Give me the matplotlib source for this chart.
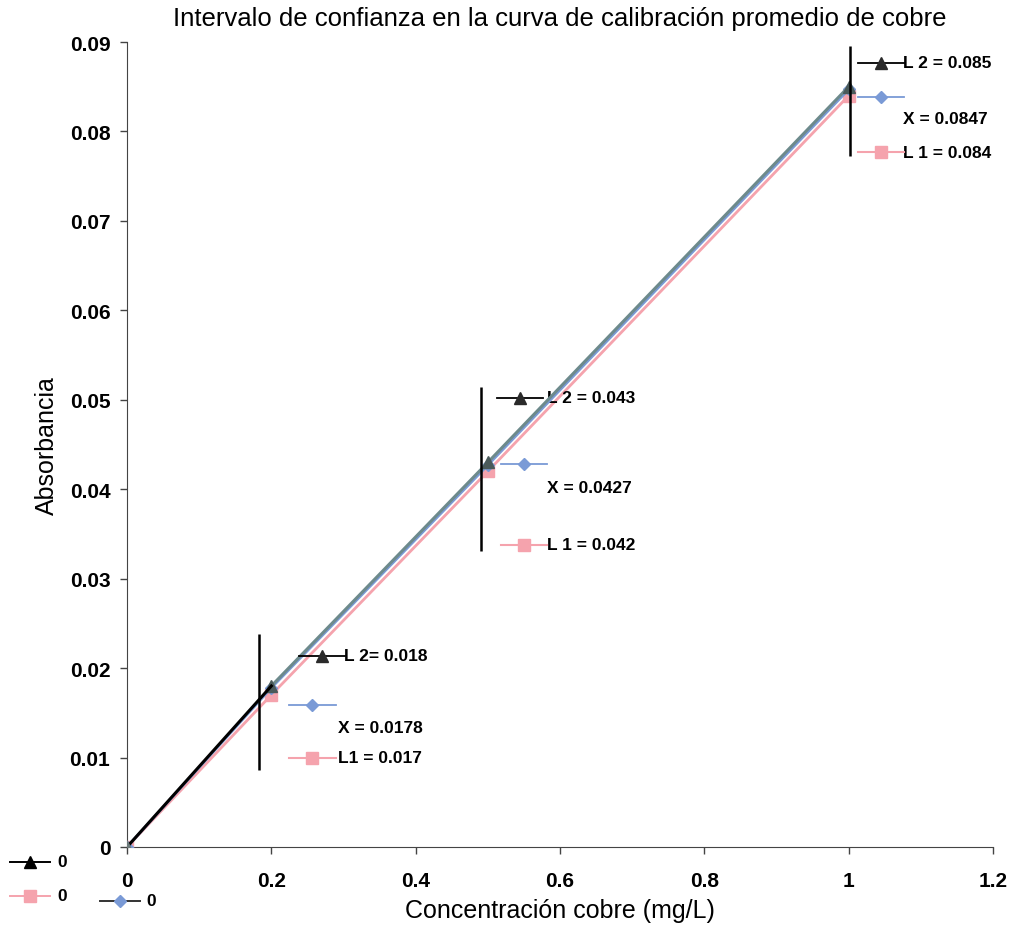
import matplotlib
matplotlib.use("Agg")
import matplotlib.pyplot as plt
from matplotlib.lines import Line2D

plt.rcParams['font.family'] = ['Liberation Sans', 'DejaVu Sans']

# ---- data ----
conc = [0, 0.2, 0.5, 1.0]
L2 = [0, 0.018, 0.043, 0.085]
Xm = [0, 0.0178, 0.0427, 0.0847]
L1 = [0, 0.017, 0.042, 0.084]

# labels for annotation blocks
lab_L2 = ["L 2= 0.018", "L 2 = 0.043", "L 2 = 0.085"]
lab_X = ["X = 0.0178", "X = 0.0427", "X = 0.0847"]
lab_L1 = ["L1 = 0.017", "L 1 = 0.042", "L 1 = 0.084"]
corner_labels = ['0', '0', '0']

# annotation anchor positions (data coords)
ann_x = [0.238, 0.513, 1.013]
ann_yL2 = [0.0214, 0.0502, 0.0877]
ann_yX = [0.0159, 0.0428, 0.0839]
ann_yXt = [0.0134, 0.0402, 0.0814]
ann_yL1 = [0.0100, 0.0338, 0.0777]
ann_xX = [0.225, 0.518, 1.013]
ann_xtxt = [0.30, 0.582, 1.075]
ann_xtxtX = [0.292, 0.582, 1.075]

# confidence interval vertical bars
vbar_x = [0.183, 0.4905, 1.002]
vbar_lo = [0.0086, 0.0331, 0.0773]
vbar_hi = [0.0238, 0.0514, 0.0896]

c_tri = '#2a2a2a'
c_tri_line = '#6d8a8c'
c_dia = '#7a9ad6'
c_sq = '#f5a3ad'

fig = plt.figure(figsize=(10.17, 9.37), dpi=100)
ax = fig.add_axes([0.1249, 0.0950, 0.8515, 0.8591])

ax.plot(conc, L1, color=c_sq, lw=2, marker='s', ms=8, zorder=3)
ax.plot(conc, Xm, color=c_dia, lw=2, marker='D', ms=6, zorder=4)
ax.plot(conc[1:], L2[1:], color=c_tri_line, lw=2.2, marker='^', ms=9,
        mfc='#4a5a5a', mec='#4a5a5a', zorder=5)
ax.plot(conc[:2], L2[:2], color='black', lw=2.2, zorder=5)
ax.plot(conc[:1], L2[:1], color=c_tri_line, marker='^', ms=9, mfc='#6d7a7a', mec='#6d7a7a', zorder=5)

for i in range(3):
    ax.vlines(vbar_x[i], vbar_lo[i], vbar_hi[i], color='black', lw=1.8, zorder=6)
    w = 0.064
    ax.plot([ann_x[i], ann_x[i] + w], [ann_yL2[i]] * 2, color='black', lw=1.3, zorder=6)
    ax.plot([ann_x[i] + w / 2], [ann_yL2[i]], marker='^', color=c_tri, ms=9, zorder=7)
    ax.text(ann_xtxt[i], ann_yL2[i], lab_L2[i], fontsize=12.5, fontweight='bold', va='center', ha='left')
    ax.plot([ann_xX[i], ann_xX[i] + w], [ann_yX[i]] * 2, color=c_dia, lw=1.3, zorder=6)
    ax.plot([ann_xX[i] + w / 2], [ann_yX[i]], marker='D', color=c_dia, ms=6, zorder=7)
    ax.text(ann_xtxtX[i], ann_yXt[i], lab_X[i], fontsize=12.5, fontweight='bold', va='center', ha='left')
    ax.plot([ann_xX[i], ann_xX[i] + w], [ann_yL1[i]] * 2, color=c_sq, lw=1.5, zorder=6)
    ax.plot([ann_xX[i] + w / 2], [ann_yL1[i]], marker='s', color=c_sq, ms=9, zorder=7)
    ax.text(ann_xtxtX[i], ann_yL1[i], lab_L1[i], fontsize=12.5, fontweight='bold', va='center', ha='left')

ax.set_xlim(0, 1.2)
ax.set_ylim(0, 0.09)
ax.set_xticks([0, 0.2, 0.4, 0.6, 0.8, 1, 1.2])
ax.set_xticklabels(['0', '0.2', '0.4', '0.6', '0.8', '1', '1.2'])
ax.set_yticks([0, 0.01, 0.02, 0.03, 0.04, 0.05, 0.06, 0.07, 0.08, 0.09])
ax.set_yticklabels(['0', '0.01', '0.02', '0.03', '0.04', '0.05', '0.06', '0.07', '0.08', '0.09'])
for lab in ax.get_xticklabels() + ax.get_yticklabels():
    lab.set_fontweight('bold')
    lab.set_fontsize(15)
ax.tick_params(axis='both', direction='out', length=5, width=1, color='#444444', pad=7)
ax.tick_params(axis='x', pad=12)
for s in ['top', 'right']:
    ax.spines[s].set_visible(False)
ax.spines['left'].set_color('#444444')
ax.spines['bottom'].set_color('#444444')

ax.set_xlabel('Concentración cobre (mg/L)', fontsize=18, labelpad=6)
ax.set_ylabel('Absorbancia', fontsize=18, labelpad=8)
ax.set_title('Intervalo de confianza en la curva de calibración promedio de cobre',
             fontsize=18.5, pad=12)

# bottom-left legend-like entries (figure pixel coords)
W, H = 1017, 937
def fx(px):
    return px / W
def fy(py):
    return 1 - py / H

corner = [
    (10, 50, 863, 'black', '^', 9, 'black', 57),
    (10, 50, 897, c_sq, 's', 9, c_sq, 57),
    (100, 140, 902, '#333333', 'D', 6, c_dia, 146),
]
for (x0, x1, y, lc, mk, ms, mc, tx), lab in zip(corner, corner_labels):
    fig.add_artist(Line2D([fx(x0), fx(x1)], [fy(y), fy(y)], color=lc, lw=1.4,
                          transform=fig.transFigure))
    fig.add_artist(Line2D([fx((x0 + x1) / 2)], [fy(y)], marker=mk, ms=ms, color=mc,
                          transform=fig.transFigure))
    fig.text(fx(tx), fy(y), lab, fontsize=12.5, fontweight='bold', va='center', ha='left')

fig.savefig('out.png', dpi=100)
